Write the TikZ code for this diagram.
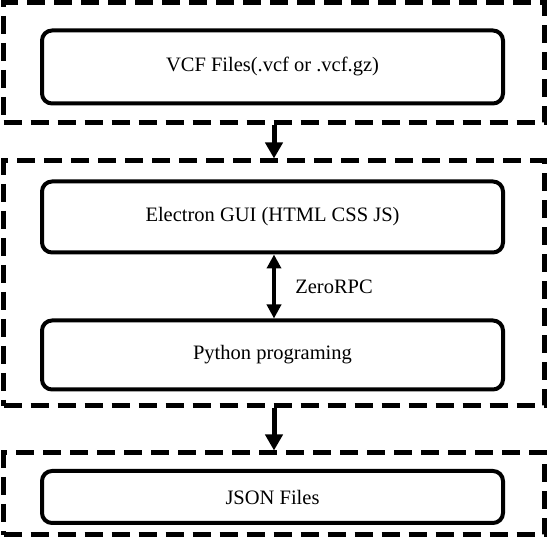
\documentclass[tikz,border=0pt]{standalone}
\usepackage{fontspec}
\setmainfont{Liberation Serif}
\usetikzlibrary{arrows.meta}
\begin{document}
\begin{tikzpicture}[x=1pt,y=1pt,
  outerbox/.style={draw, line width=5pt, dash pattern=on 18pt off 9pt, minimum width=541pt, inner sep=0pt},
  innerbox/.style={draw, line width=4pt, rounded corners=10pt, minimum width=461pt, inner sep=0pt, font=\fontsize{20.5}{24}\selectfont},
  arr/.style={line width=5pt, -{Triangle[width=17pt,length=16pt]}},
  darr/.style={line width=4pt, {Triangle[width=14pt,length=14pt]}-{Triangle[width=14pt,length=14pt]}}
]
\useasboundingbox (0,0) rectangle (549,538);
\fill[white] (0,0) rectangle (549,538);
\node[outerbox, minimum height=120pt] (b1) at (274,475) {};
\node[outerbox, minimum height=245pt] (b2) at (274,254.5) {};
\node[outerbox, minimum height=82pt] (b3) at (274,44) {};
\node[innerbox, minimum height=73pt] (vcf) at (272.5,471) {VCF Files(.vcf or .vcf.gz)};
\node[innerbox, minimum height=71pt] (gui) at (272.5,321) {Electron GUI (HTML CSS JS)};
\node[innerbox, minimum height=69pt] (py) at (272.5,183) {Python programing};
\node[innerbox, minimum height=52pt] (json) at (272.5,41) {JSON Files};
\draw[arr] (b1.south) -- (b2.north);
\draw[arr] (b2.south) -- (b3.north);
\draw[darr] ([xshift=1.5pt]gui.south) -- ([xshift=1.5pt]py.north) node[midway, right=16pt, font=\fontsize{20.5}{24}\selectfont] (zrpc) {ZeroRPC};
\end{tikzpicture}
\end{document}
